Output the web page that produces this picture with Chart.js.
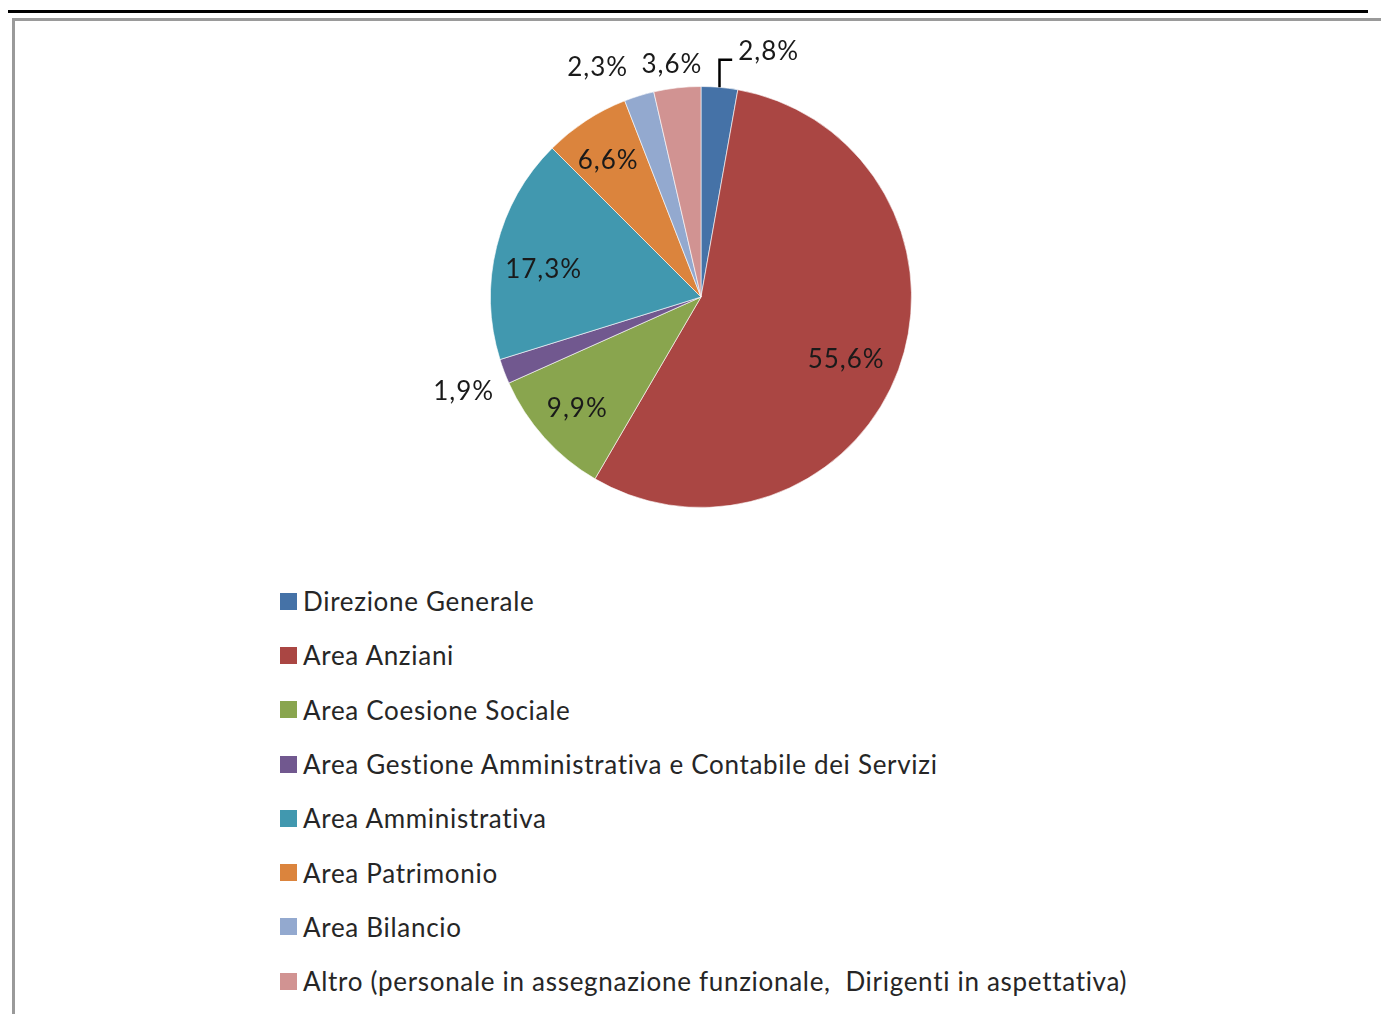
<!DOCTYPE html>
<html>
<head>
<meta charset="utf-8">
<script src="https://cdn.jsdelivr.net/npm/chart.js@4/dist/chart.umd.min.js"></script>
<style>
  html, body { margin: 0; padding: 0; background: #fff; }
  body { width: 1381px; height: 1014px; position: relative; overflow: hidden; font-family: Lato, 'Noto Sans', sans-serif; }
  .rule { position: absolute; left: 8px; top: 10px; width: 1360px; height: 3px; background: #000; }
  .frame { position: absolute; left: 12px; top: 18px; width: 1400px; height: 1100px; border-left: 3px solid #9a9a9a; border-top: 3px solid #9a9a9a; }
  #chart { position: absolute; left: 0; top: 0; }
  #legend { position: absolute; left: 280px; top: 574px; margin: 0; padding: 0; list-style: none; }
  #legend li { display: flex; align-items: center; height: 54.3px; font-size: 26px; letter-spacing: 0.7px; font-variant-ligatures: none; color: #262626; white-space: pre; }
  #legend span.box { width: 17px; height: 17px; margin-right: 6px; display: inline-block; }
</style>
</head>
<body>
<div class="rule"></div>
<div class="frame"></div>
<canvas id="chart" width="1381" height="560"></canvas>
<ul id="legend"></ul>
<script>
const categories = [
  'Direzione Generale',
  'Area Anziani',
  'Area Coesione Sociale',
  'Area Gestione Amministrativa e Contabile dei Servizi',
  'Area Amministrativa',
  'Area Patrimonio',
  'Area Bilancio',
  'Altro (personale in assegnazione funzionale,  Dirigenti in aspettativa)'
]
const shares = [2.8, 55.6, 9.9, 1.9, 17.3, 6.6, 2.3, 3.6]
const colors = ['#4572A7', '#AA4643', '#89A54E', '#71588F', '#4198AF', '#DB843D', '#93A9CF', '#D19392']

// label placement per slice: radius factor along the mid angle plus a pixel nudge
const labelPlacement = [
  { r: 1.17, dx: 46, dy: 0, leader: true },
  { r: 0.75, dx: -3, dy: 8 },
  { r: 0.79, dx: 0, dy: 0 },
  { r: 1.21, dx: 1, dy: 5 },
  { r: 0.76, dx: -2, dy: 11 },
  { r: 0.79, dx: -2, dy: 3 },
  { r: 1.2, dx: -29, dy: 12 },
  { r: 1.1, dx: -3, dy: -2 }
]

const fmt = (v) => v.toFixed(1).replace('.', ',') + '%'

const pieLabels = {
  id: 'pieLabels',
  afterDatasetsDraw(chart) {
    const ctx = chart.ctx
    const meta = chart.getDatasetMeta(0)
    ctx.save()
    ctx.font = '26px Lato, "Noto Sans", sans-serif'
    ctx.letterSpacing = '1px'
    ctx.fillStyle = '#1a1a1a'
    ctx.textAlign = 'center'
    ctx.textBaseline = 'middle'
    meta.data.forEach((arc, i) => {
      const p = labelPlacement[i]
      const mid = (arc.startAngle + arc.endAngle) / 2
      const cx = arc.x + Math.cos(mid) * arc.outerRadius * p.r + p.dx
      const cy = arc.y + Math.sin(mid) * arc.outerRadius * p.r + p.dy
      const text = fmt(shares[i])
      ctx.fillText(text, cx, cy)
      if (p.leader) {
        const w = ctx.measureText(text).width
        const ex = arc.x + Math.cos(mid) * arc.outerRadius
        const ey = arc.y + Math.sin(mid) * arc.outerRadius
        ctx.beginPath()
        ctx.strokeStyle = '#000'
        ctx.lineWidth = 2.5
        ctx.moveTo(ex, ey)
        ctx.lineTo(ex, cy + 8)
        ctx.lineTo(cx - w / 2 - 6, cy + 8)
        ctx.stroke()
      }
    })
    ctx.restore()
  }
}

const chart = new Chart(document.getElementById('chart'), {
  type: 'pie',
  data: {
    labels: categories,
    datasets: [{
      data: shares,
      backgroundColor: colors,
      borderColor: 'rgba(255,255,255,0.6)',
      borderWidth: 1
    }]
  },
  options: {
    responsive: false,
    animation: false,
    devicePixelRatio: 1,
    layout: { padding: { top: 86, bottom: 52, left: 21, right: 0 } },
    plugins: {
      legend: { display: false },
      tooltip: { enabled: false }
    }
  },
  plugins: [pieLabels]
})

const legend = document.getElementById('legend')
categories.forEach((label, i) => {
  const li = document.createElement('li')
  li.innerHTML = `<span class="box" style="background:${colors[i]}"></span>${label}`
  legend.appendChild(li)
})
</script>
</body>
</html>
